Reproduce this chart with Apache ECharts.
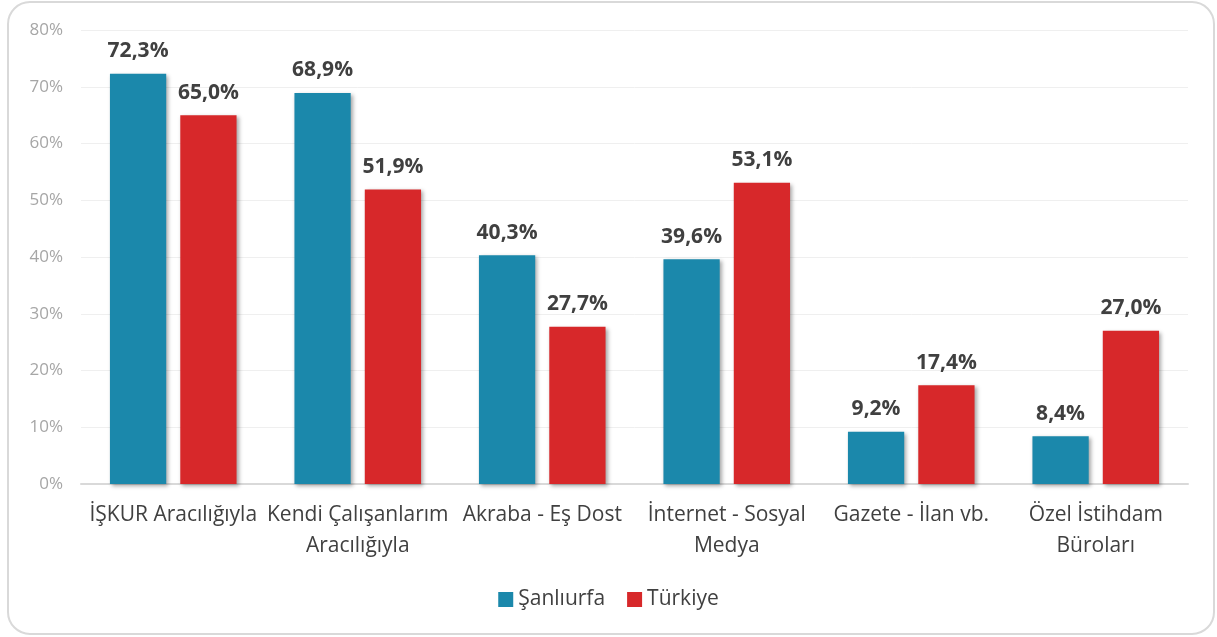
<!DOCTYPE html>
<html>
<head>
<meta charset="utf-8">
<script src="https://cdn.jsdelivr.net/npm/echarts@6/dist/echarts.min.js"></script>
<style>
  html, body { margin: 0; padding: 0; background: #fff; }
  #chart { width: 1217px; height: 637px; }
</style>
</head>
<body>
<div id="chart"></div>
<script>
// kategoriler ve seriler
var categories = ['İŞKUR Aracılığıyla', 'Kendi Çalışanlarım\nAracılığıyla', 'Akraba - Eş Dost',
    'İnternet - Sosyal\nMedya', 'Gazete - İlan vb.', 'Özel İstihdam\nBüroları'];
var sanliurfa = [72.3, 68.9, 40.3, 39.6, 9.2, 8.4];
var turkiye = [65.0, 51.9, 27.7, 53.1, 17.4, 27.0];
var yTicks = [0, 10, 20, 30, 40, 50, 60, 70, 80];

var fontFam = '"Open Sans", "Noto Sans", sans-serif';
var myChart = echarts.init(document.getElementById('chart'));

function pct(v) {
    return v.toFixed(1).replace('.', ',') + '%';
}

var barShadow = {
    shadowBlur: 4,
    shadowColor: 'rgba(0,0,0,0.35)',
    shadowOffsetX: 2,
    shadowOffsetY: 2
};

option = {
    animation: false,
    textStyle: { fontFamily: fontFam },
    graphic: [{
        type: 'rect',
        shape: { x: 8, y: 2, width: 1206, height: 632, r: 22 },
        style: { fill: 'none', stroke: '#d9d9d9', lineWidth: 2 },
        z: -1
    }],
    legend: {
        bottom: 22,
        left: 'center',
        itemWidth: 15,
        itemHeight: 15,
        itemGap: 22,
        icon: 'rect',
        textStyle: { fontSize: 21, color: '#404040', fontFamily: fontFam },
        data: ['Şanlıurfa', 'Türkiye']
    },
    grid: { left: 81, right: 29, top: 30, bottom: 153 },
    xAxis: {
        type: 'category',
        data: categories,
        axisTick: { show: false },
        axisLine: { lineStyle: { color: '#d9d9d9', width: 2 } },
        axisLabel: {
            color: '#404040',
            fontSize: 21,
            lineHeight: 31,
            margin: 16,
            interval: 0,
            fontFamily: fontFam
        }
    },
    yAxis: {
        type: 'value',
        min: yTicks[0],
        max: yTicks[yTicks.length - 1],
        interval: 10,
        axisLabel: {
            color: '#a6a6a6',
            fontSize: 17,
            margin: 18,
            fontFamily: fontFam,
            formatter: '{value}%'
        },
        splitLine: { lineStyle: { color: '#efefef', width: 1 } },
        axisLine: { show: false },
        axisTick: { show: false }
    },
    series: [
        {
            name: 'Şanlıurfa',
            type: 'bar',
            data: sanliurfa,
            barWidth: '30.5%',
            barGap: '25%',
            itemStyle: Object.assign({ color: '#1b88ab' }, barShadow),
            label: {
                show: true,
                position: 'top',
                distance: 12,
                color: '#404040',
                fontSize: 21,
                fontWeight: 'bold',
                fontFamily: fontFam,
                formatter: function (p) { return pct(p.value); }
            }
        },
        {
            name: 'Türkiye',
            type: 'bar',
            data: turkiye,
            barWidth: '30.5%',
            itemStyle: Object.assign({ color: '#d7282a' }, barShadow),
            label: {
                show: true,
                position: 'top',
                distance: 12,
                color: '#404040',
                fontSize: 21,
                fontWeight: 'bold',
                fontFamily: fontFam,
                formatter: function (p) { return pct(p.value); }
            }
        }
    ]
};

if (option && typeof option === "object") {
    myChart.setOption(option, true);
}
</script>
</body>
</html>
